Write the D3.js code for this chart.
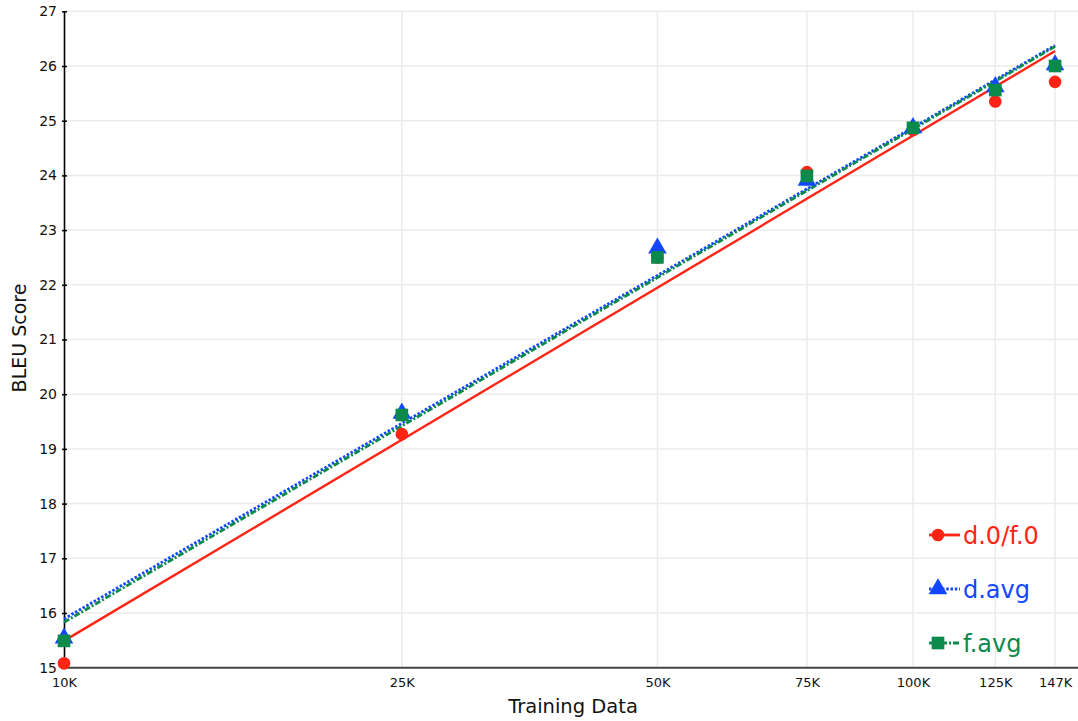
<!DOCTYPE html>
<html><head><meta charset="utf-8">
<script src="https://cdn.jsdelivr.net/npm/d3@7"></script>
<style>body{margin:0;background:#fff}svg{display:block}text{font-family:"DejaVu Sans",sans-serif}</style>
</head><body><svg id="c" width="1078" height="721"></svg>
<script>
const xTicks = [10000, 25000, 50000, 75000, 100000, 125000, 147000];
const xTickLabels = ["10K","25K","50K","75K","100K","125K","147K"];
const yTicks = [15,16,17,18,19,20,21,22,23,24,25,26,27];
const trainSizes = [10000, 25000, 50000, 75000, 100000, 125000, 147000];
const d0f0 = [15.08, 19.27, 22.50, 24.06, 24.83, 25.35, 25.71];
const davg = [15.54, 19.65, 22.67, 23.91, 24.87, 25.62, 26.02];
const favg = [15.49, 19.62, 22.50, 23.99, 24.87, 25.56, 26.00];
const seriesNames = ["d.0/f.0", "d.avg", "f.avg"];

const svg = d3.select("#c");
const x = d3.scaleLog().domain([1e4, 1e5]).range([64, 913]);
const y = d3.scaleLinear().domain([15, 27]).range([667.7, 11.3]);
const xRight = 1078;

const series = [
  {name: seriesNames[0], vals: d0f0, color: "#ff2414", dash: null, shape: d3.symbolCircle, size: 125},
  {name: seriesNames[1], vals: davg, color: "#1247ff", dash: "2.5,1.8", shape: d3.symbolTriangle, size: 150},
  {name: seriesNames[2], vals: favg, color: "#0b8a4c", dash: "6,2,2,2", shape: d3.symbolSquare, size: 160}
];

// grid
svg.append("g").selectAll("line").data(yTicks.slice(1)).join("line")
  .attr("x1", 64).attr("x2", xRight).attr("y1", d => y(d)).attr("y2", d => y(d))
  .attr("stroke", "#ebebeb").attr("stroke-width", 1.5);
svg.append("g").selectAll("line").data(xTicks.slice(1)).join("line")
  .attr("x1", d => x(d)).attr("x2", d => x(d)).attr("y1", y(27)).attr("y2", y(15))
  .attr("stroke", "#ebebeb").attr("stroke-width", 1.5);

// axes
const yAxis = d3.axisLeft(y).tickValues(yTicks).tickFormat(d3.format("d")).tickSizeInner(3).tickSizeOuter(0).tickPadding(4);
const gy = svg.append("g").attr("transform", "translate(64,0)").call(yAxis);
gy.select(".domain").attr("stroke", "#000").attr("stroke-width", 1.6);
gy.selectAll(".tick line").attr("stroke", "#000").attr("stroke-width", 1.5).attr("x2", 3).attr("x1", -2);
gy.selectAll(".tick text").attr("font-size", 14).attr("fill", "#111").attr("font-family", "DejaVu Sans");

const xAxis = d3.axisBottom(x).tickValues(xTicks).tickFormat((d,i) => xTickLabels[i]).tickSize(0).tickPadding(10);
const gx = svg.append("g").attr("transform", `translate(0,${y(15)})`).call(xAxis);
gx.select(".domain").remove();
gx.append("line").attr("x1", 64).attr("x2", xRight).attr("stroke", "#444").attr("stroke-width", 2);
gx.selectAll(".tick text").attr("font-size", 13).attr("fill", "#111").attr("font-family", "DejaVu Sans");

// axis titles
svg.append("text").attr("x", 573).attr("y", 713).attr("text-anchor", "middle")
  .attr("font-size", 19.5).attr("fill", "#111").text("Training Data");
svg.append("text").attr("transform", "translate(26,338) rotate(-90)").attr("text-anchor", "middle")
  .attr("font-size", 19).attr("fill", "#111").text("BLEU Score");

// regression fits in log-x space
function fit(vals) {
  const lx = trainSizes.map(v => Math.log10(v));
  const mx = d3.mean(lx), my = d3.mean(vals);
  let sxy = 0, sxx = 0;
  lx.forEach((v, i) => { sxy += (v - mx) * (vals[i] - my); sxx += (v - mx) * (v - mx); });
  const b = sxy / sxx, a = my - b * mx;
  const ends = [trainSizes[0], trainSizes[trainSizes.length - 1]];
  return ends.map(t => [t, a + b * Math.log10(t)]);
}
series.forEach(s => {
  const pts = fit(s.vals);
  svg.append("path").datum(pts)
    .attr("d", d3.line().x(d => x(d[0])).y(d => y(d[1])))
    .attr("fill", "none").attr("stroke", s.color).attr("stroke-width", s.dash ? 2.8 : 2.4)
    .attr("stroke-dasharray", s.dash);
});

// markers
series.forEach(s => {
  svg.append("g").selectAll("path").data(s.vals).join("path")
    .attr("transform", (d, i) => `translate(${x(trainSizes[i])},${y(d)})`)
    .attr("d", d3.symbol().type(s.shape).size(s.size))
    .attr("fill", s.color);
});

// legend
const lg = svg.append("g");
series.forEach((s, i) => {
  const cy = 535 + i * 54;
  lg.append("line").attr("x1", 929).attr("x2", 960).attr("y1", cy).attr("y2", cy)
    .attr("stroke", s.color).attr("stroke-width", 2.8).attr("stroke-dasharray", s.dash);
  lg.append("path").attr("transform", `translate(938,${cy})`)
    .attr("d", d3.symbol().type(s.shape).size(s.size)).attr("fill", s.color);
  lg.append("text").attr("x", 963).attr("y", cy + 8.5).attr("font-size", 24)
    .attr("fill", s.color).text(s.name);
});
</script></body></html>
